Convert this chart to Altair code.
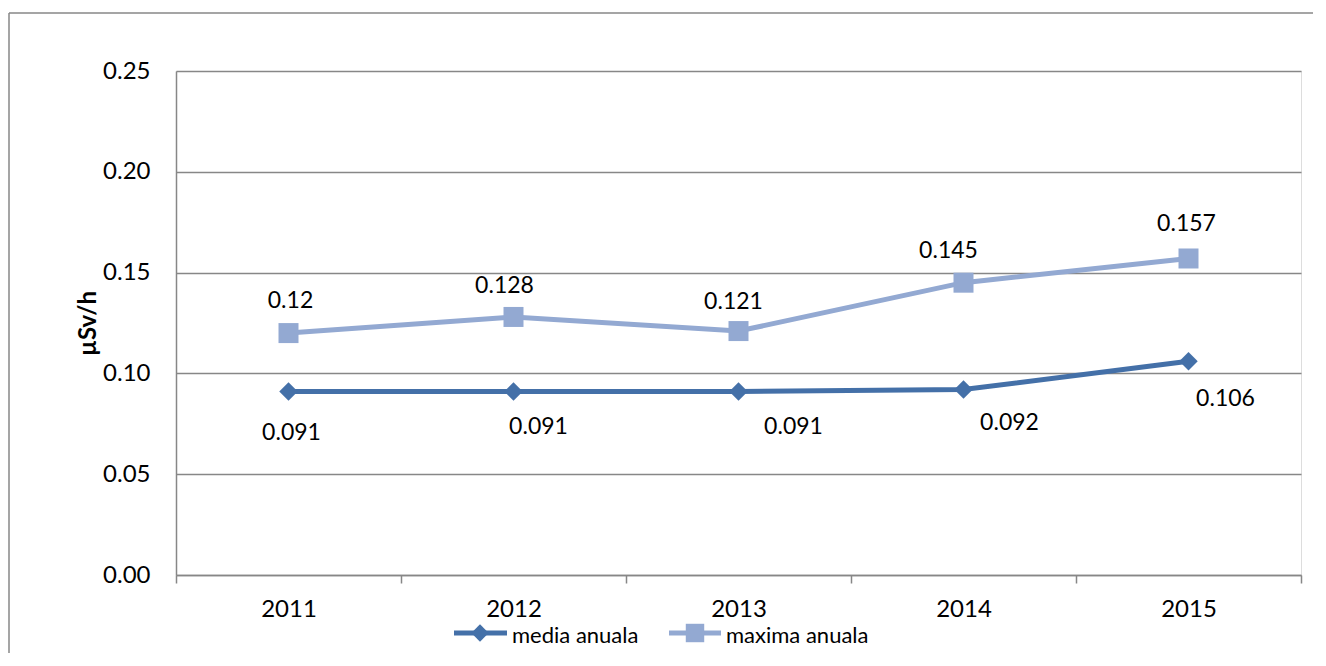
import altair as alt
import pandas as pd

# ---- data ----
years = ["2011", "2012", "2013", "2014", "2015"]
media = [0.091, 0.091, 0.091, 0.092, 0.106]
maxima = [0.12, 0.128, 0.121, 0.145, 0.157]
series_names = ["media anuala", "maxima anuala"]
y_ticks = [0.0, 0.05, 0.10, 0.15, 0.20, 0.25]

# ---- style ----
colors = ["#4470A8", "#93A9D2"]
FONT = "Lato"
GRAY = "#878787"
W, H = 1125, 504
PAD_L, PAD_T = 168, 63
# per-label pixel nudges (as dragged in the original)
media_dx = [3, 25, 55, 46, 37]
media_dy = [41, 35, 35, 33, 38]
max_dx = [2, -9, -5, -15, -2]
max_dy = [-32, -31, -29, -32, -34]

rows = []
for i, yr in enumerate(years):
    rows.append({"year": yr, "series": series_names[0], "value": media[i], "label": str(media[i])})
    rows.append({"year": yr, "series": series_names[1], "value": maxima[i], "label": str(maxima[i])})
df = pd.DataFrame(rows)

x_enc = alt.X(
    "year:O",
    sort=years,
    scale=alt.Scale(type="band", paddingInner=0, paddingOuter=0),
    axis=alt.Axis(
        title=None, labelAngle=0, tickBand="extent", tickSize=8, ticks=True,
        labelPadding=14, labelFontSize=24, labelFont=FONT, labelColor="black",
        domainColor=GRAY, domainWidth=1.5, tickColor=GRAY, tickWidth=1.5, grid=False,
    ),
)
y_enc = alt.Y(
    "value:Q",
    scale=alt.Scale(domain=[0, 0.25], nice=False, zero=True),
    axis=alt.Axis(
        values=y_ticks, format=".2f", title="µSv/h", titleFont=FONT, titleFontSize=24,
        titleFontWeight="bold", titleColor="black", titleX=-88, titleY=H / 2,
        titleAlign="center", titleBaseline="middle", titleAngle=-90,
        ticks=False, labelPadding=26, labelFontSize=24, labelFont=FONT, labelColor="black",
        domainColor=GRAY, domainWidth=1.5, grid=True, gridColor=GRAY, gridWidth=1.4,
    ),
)
color_enc = alt.Color(
    "series:N", scale=alt.Scale(domain=series_names, range=colors), legend=None
)

base = alt.Chart(df)
one = pd.DataFrame({"a": [0]})

# outer chart frame (only top and left edges are visible in the original)
frame_top = alt.Chart(one).mark_rule(color=GRAY, strokeWidth=1.5).encode(
    x=alt.value(-PAD_L + 1), x2=alt.value(W + 12), y=alt.value(-58)
)
frame_left = alt.Chart(one).mark_rule(color=GRAY, strokeWidth=1.5).encode(
    x=alt.value(-PAD_L + 1), y=alt.value(-58), y2=alt.value(H + 80)
)

lines = base.mark_line(strokeWidth=5).encode(x=x_enc, y=y_enc, color=color_enc)

pts_media = base.transform_filter(alt.datum.series == series_names[0]).mark_point(
    shape="diamond", size=340, filled=True, opacity=1
).encode(x=x_enc, y=y_enc, color=color_enc)

pts_max = base.transform_filter(alt.datum.series == series_names[1]).mark_point(
    shape="square", size=400, filled=True, opacity=1
).encode(x=x_enc, y=y_enc, color=color_enc)

labels = []
for i, yr in enumerate(years):
    for s, dxs, dys in [(series_names[0], media_dx, media_dy), (series_names[1], max_dx, max_dy)]:
        labels.append(
            base.transform_filter(
                (alt.datum.year == yr) & (alt.datum.series == s)
            ).mark_text(
                dx=dxs[i], dy=dys[i], font=FONT, fontSize=23, color="black",
                align="center", baseline="middle",
            ).encode(x=x_enc, y=y_enc, text="label:N")
        )

# ---- manual legend (Excel style: line through marker) ----
leg_y = 562
legend_items = [
    # (name, color, shape, line x1, line x2, marker x, text x)
    (series_names[0], colors[0], "diamond", 278, 331, 304, 336),
    (series_names[1], colors[1], "square", 493, 545, 519, 550),
]
legend_layers = []
for name, col, shp, lx1, lx2, mx, tx in legend_items:
    legend_layers.append(
        alt.Chart(one).mark_rule(color=col, strokeWidth=5).encode(
            x=alt.value(lx1), x2=alt.value(lx2), y=alt.value(leg_y)
        )
    )
    legend_layers.append(
        alt.Chart(one).mark_point(
            shape=shp, size=300 if shp == "diamond" else 340, filled=True, opacity=1, color=col
        ).encode(x=alt.value(mx), y=alt.value(leg_y))
    )
    legend_layers.append(
        alt.Chart(one).mark_text(
            text=name, font=FONT, fontSize=22, color="black", align="left", baseline="middle"
        ).encode(x=alt.value(tx), y=alt.value(leg_y + 3))
    )

chart = alt.layer(
    frame_top, frame_left, lines, pts_media, pts_max, *labels, *legend_layers
).properties(
    width=W, height=H,
    autosize=alt.AutoSizeParams(type="none"),
    padding={"left": PAD_L, "top": PAD_T, "right": 17, "bottom": 78},
).configure_view(stroke=None).configure(background="white")

chart.save("out.html", embed_options={"renderer": "svg", "actions": False})
